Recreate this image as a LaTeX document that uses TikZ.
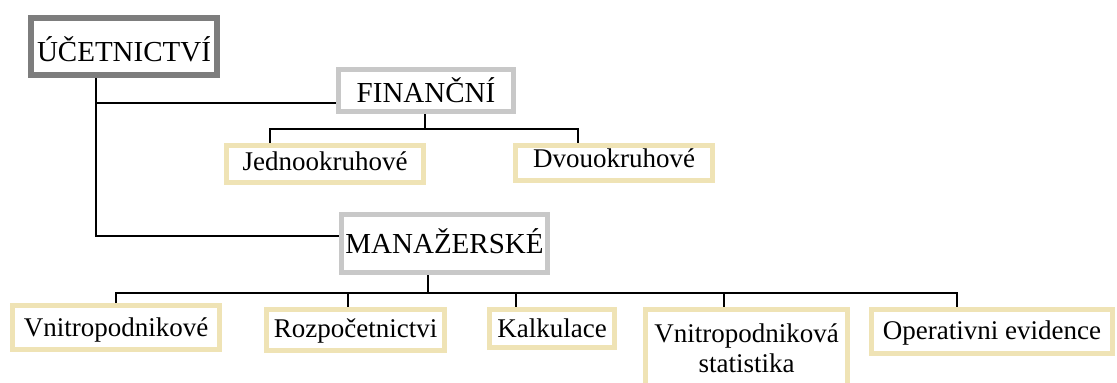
\documentclass[tikz,border=0pt]{standalone}
\usepackage{fontspec}
\setmainfont{Liberation Serif}
\definecolor{dgray}{RGB}{125,125,125}
\definecolor{lgray}{RGB}{200,200,200}
\definecolor{beige}{RGB}{239,227,181}
\begin{document}
\begin{tikzpicture}[x=1pt,y=-1pt,
  topbox/.style={draw=dgray, line width=6pt, inner sep=0pt, font=\fontsize{29}{35}\selectfont, text depth=7pt},
  midbox/.style={draw=lgray, line width=5pt, inner sep=0pt, font=\fontsize{29}{35}\selectfont, text depth=7pt},
  leafbox/.style={draw=beige, line width=5pt, inner sep=0pt, font=\fontsize{27}{30}\selectfont, text depth=7pt},
  conn/.style={line width=2pt, black}]
\fill[white] (0,0) rectangle (1117,383);
\useasboundingbox (0,0) rectangle (1117,383);
\clip (0,0) rectangle (1117,383);

\node[topbox, minimum width=186pt, minimum height=57pt, text height=37pt] (U) at (124,46.5) {ÚČETNICTVÍ};
\node[midbox, minimum width=175pt, minimum height=42pt, text height=30pt] (F) at (426,90.5) {FINANČNÍ};
\node[midbox, minimum width=206pt, minimum height=58pt, text height=26pt] (M) at (444.5,243.5) {MANAŽERSKÉ};

\node[leafbox, minimum width=197pt, minimum height=37pt, text height=19pt] (J) at (325,164) {Jednookruhové};
\node[leafbox, minimum width=197pt, minimum height=35pt, text height=15pt] (D) at (614,163) {Dvouokruhové};

\node[leafbox, minimum width=207pt, minimum height=44pt, text height=24pt] (V1) at (116,327.5) {Vnitropodnikové};
\node[leafbox, minimum width=178pt, minimum height=41pt, text height=21pt] (R) at (355.5,330) {Rozpočetnictvi};
\node[leafbox, minimum width=125pt, minimum height=38pt, text height=24pt] (K) at (552,328.5) {Kalkulace};
\node[leafbox, minimum width=202pt, minimum height=88pt, text height=20pt, text depth=43pt] (VS) at (746.5,353.5)
  {\begin{tabular}[t]{@{}c@{}}Vnitropodniková\\statistika\end{tabular}};
\node[leafbox, minimum width=241pt, minimum height=44pt, text height=22pt] (O) at (992,331.5) {Operativni evidence};

% root connectors
\coordinate (a) at (96,103);
\coordinate (b) at (96,236);
\draw[conn] (U.south -| a) -- (b) -- (b -| M.west);
\draw[conn] (a) -- (a -| F.west);
\draw[line width=2.8pt] ([xshift=202pt]a) -- ([xshift=220pt]a);

% financni branch
\coordinate (fb) at (425,129);
\coordinate (fj) at (270,129);
\coordinate (fd) at (578,129);
\draw[conn] (F.south -| fb) -- (fb);
\draw[conn] (fj |- J.north) -- (fj) -- (fd) -- (fd |- D.north);

% manazerske branch
\coordinate (mb) at (428,293);
\coordinate (m1) at (116,293);
\coordinate (m2) at (348,293);
\coordinate (m3) at (516,293);
\coordinate (m4) at (724,293);
\coordinate (m5) at (957,293);
\draw[conn] (M.south -| mb) -- (mb);
\draw[conn] (m1 |- V1.north) -- (m1) -- (m5) -- (m5 |- O.north);
\draw[conn] (m2) -- (m2 |- R.north);
\draw[conn] (m3) -- (m3 |- K.north);
\draw[conn] (m4) -- (m4 |- VS.north);
\end{tikzpicture}
\end{document}
